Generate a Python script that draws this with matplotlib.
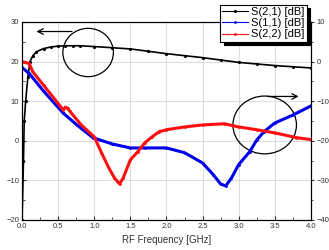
import matplotlib
matplotlib.use('Agg')
import matplotlib.pyplot as plt
from matplotlib.patches import Ellipse
from matplotlib.ticker import MultipleLocator

plt.rcParams['font.family'] = ['Liberation Sans', 'DejaVu Sans']

# S(2,1), left axis [dB]
f21 = [0.0, 0.02, 0.03, 0.05, 0.08, 0.11, 0.15, 0.2, 0.3, 0.4, 0.5, 0.6, 0.7, 0.8, 1.0,
       1.25, 1.5, 1.75, 2.0, 2.25, 2.5, 2.75, 3.0, 3.25, 3.5, 3.75, 4.0]
s21 = [-20, -5, 5, 10, 16, 20, 21.5, 22.5, 23.3, 23.7, 23.9, 24.0, 24.0, 24.0, 23.8,
       23.5, 23.2, 22.6, 22.0, 21.5, 21.0, 20.4, 19.8, 19.4, 19.0, 18.7, 18.4]

# S(1,1), right axis [dB]
f11 = [0.0, 0.1, 0.3, 0.57, 0.76, 0.98, 1.08, 1.25, 1.5, 1.7, 2.0, 2.25, 2.5, 2.65,
       2.75, 2.82, 2.9, 3.0, 3.15, 3.25, 3.35, 3.5, 3.75, 4.0]
s11 = [-1.5, -3.0, -7.5, -13.0, -16.0, -19.2, -19.8, -20.8, -21.8, -21.8, -21.8, -23.0,
       -25.6, -28.6, -30.9, -31.4, -29.4, -26.0, -22.8, -19.8, -17.7, -15.5, -13.5, -11.2]

# S(2,2), right axis [dB]
f22 = [0.0, 0.1, 0.15, 0.3, 0.57, 0.6, 0.63, 0.66, 0.82, 1.0, 1.1, 1.2, 1.28, 1.35,
       1.4, 1.5, 1.6, 1.7, 1.8, 1.9, 2.0, 2.25, 2.5, 2.8, 3.0, 3.25, 3.5, 3.8, 4.0]
s22 = [0.0, -0.5, -2.6, -6.0, -12.2, -11.5, -11.8, -12.5, -16.0, -19.0, -23.0, -26.8,
       -29.4, -30.9, -29.4, -24.8, -22.8, -20.5, -19.0, -17.7, -17.2, -16.5, -16.0,
       -15.7, -16.5, -17.2, -18.0, -19.2, -19.7]

fig = plt.figure(figsize=(3.29, 2.5), dpi=100)
ax = fig.add_axes([0.067, 0.12, 0.878, 0.792])
ax2 = ax.twinx()

l1, = ax.plot(f21, s21, color='black', lw=1.2, marker='.', ms=2.5, label='S(2,1) [dB]')
l2, = ax2.plot(f11, s11, color='#0000ee', lw=2.2, marker='.', ms=2, label='S(1,1) [dB]')
l3, = ax2.plot(f22, s22, color='#ff1010', lw=2.2, marker='.', ms=2, label='S(2,2) [dB]')

ax.set_xlim(0, 4.0)
ax.set_ylim(-20, 30)
ax2.set_ylim(-40, 10)
ax.xaxis.set_major_locator(MultipleLocator(0.5))
ax.xaxis.set_minor_locator(MultipleLocator(0.25))
ax.yaxis.set_major_locator(MultipleLocator(10))
ax.yaxis.set_minor_locator(MultipleLocator(5))
ax2.yaxis.set_major_locator(MultipleLocator(10))
ax2.yaxis.set_minor_locator(MultipleLocator(5))
ax.grid(True, color='#dddddd', lw=0.8)
ax.set_axisbelow(True)

ax.tick_params(which='both', direction='in', labelsize=5.5, colors='#333333', pad=2)
ax.tick_params(which='major', length=3, width=0.8)
ax.tick_params(which='minor', length=2, width=0.6)
ax2.tick_params(which='both', direction='out', labelsize=5.5, colors='#333333', pad=1.5)
ax2.tick_params(which='major', length=2.5, width=0.8)
ax2.tick_params(which='minor', length=1.5, width=0.6)
ax.set_xlabel('RF Frequency [GHz]', fontsize=7, color='#333333', labelpad=4)

# annotation circles with arrows
ax.add_patch(Ellipse((0.915, 22.3), 0.7, 12.2, fill=False, color='black', lw=0.9))
ax.annotate('', xy=(0.16, 27.6), xytext=(0.73, 27.6),
            arrowprops=dict(arrowstyle='->', color='black', lw=0.9))
ax2.add_patch(Ellipse((3.36, -16.0), 0.88, 14.6, fill=False, color='black', lw=0.9))
ax2.annotate('', xy=(3.87, -8.8), xytext=(3.36, -8.8),
             arrowprops=dict(arrowstyle='->', color='black', lw=0.9))

leg = ax2.legend(handles=[l1, l2, l3], loc='upper right',
                 bbox_to_anchor=(0.933, 0.98), bbox_transform=fig.transFigure,
                 fontsize=8, frameon=True, fancybox=False,
                 shadow={'color': 'black', 'alpha': 1, 'ox': 2.5, 'oy': -2.5},
                 borderpad=0.2, labelspacing=0.1, handlelength=2.3, handletextpad=0.3,
                 borderaxespad=0)
leg.get_frame().set_edgecolor('black')
leg.get_frame().set_linewidth(0.8)
for h in leg.legend_handles:
    h.set_linewidth(0.8)

fig.savefig('out.png', dpi=100)
